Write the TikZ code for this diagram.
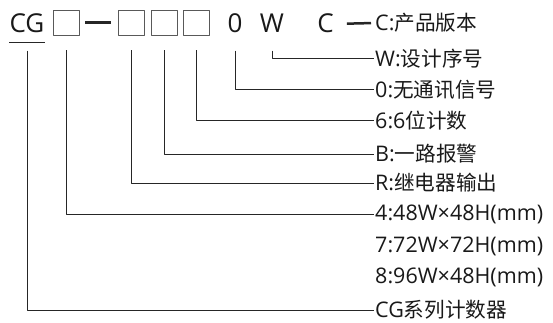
\documentclass[tikz,border=0pt]{standalone}
\usepackage{fontspec}
\setmainfont{Open Sans}
\newfontfamily\cjk[Scale=0.96]{Noto Sans CJK SC}
\begin{document}
\begin{tikzpicture}[x=1pt, y=-1pt, line join=round,
    code/.style={inner xsep=0pt, inner ysep=3.5pt, text height=18pt, text depth=0pt,
      font=\fontsize{26}{26}\selectfont, text=black!90},
    slot/.style={draw=black!65, line width=0.9pt, minimum width=26pt, minimum height=25pt, inner sep=0pt},
    lbl/.style={anchor=west, inner sep=1pt, font=\fontsize{21.5}{21.5}\selectfont, text=black!90},
    conn/.style={draw=black!85, line width=1pt},
    bar/.style={draw=black!85, line width=2.5pt}]
    \useasboundingbox (0,0) rectangle (553,323);
    \node[code] (cg) at (27,24) {CG};
    \node[slot] (b1) at (66,22.5) {};
    \node[slot] (b2) at (131,22.5) {};
    \node[slot] (b3) at (164,22.5) {};
    \node[slot] (b4) at (196.5,22.5) {};
    \node[code] (zero) at (235,24) {0};
    \node[code] (w) at (272,24) {W};
    \node[code] (c) at (325.5,24) {C};
    \node[lbl] (lc) at (374,23) {C:{\cjk 产品版本}};
    \node[lbl] (lw) at (374,59) {W:{\cjk 设计序号}};
    \node[lbl] (l0) at (374,90) {0:{\cjk 无通讯信号}};
    \node[lbl] (l6) at (374,121) {6:6{\cjk 位计数}};
    \node[lbl] (lb) at (374,154) {B:{\cjk 一路报警}};
    \node[lbl] (lr) at (374,183) {R:{\cjk 继电器输出}};
    \node[lbl] (l4) at (374,214) {4:48W×48H(mm)};
    \node[lbl] (l7) at (374,246) {7:72W×72H(mm)};
    \node[lbl] (l8) at (374,277) {8:96W×48H(mm)};
    \node[lbl] (lcg) at (374,310) {CG{\cjk 系列计数器}};
    \draw[conn] ([yshift=-6pt]cg.south west) -- ([yshift=-6pt]cg.south east);
    \draw[bar, shorten <=6pt, shorten >=7pt] (b1.east) -- (b2.west);
    \draw[bar, shorten <=13pt, shorten >=3pt] (c.east) -- (lc.west);
    \draw[conn] ([yshift=-14pt]w.south) |- (lw.west);
    \draw[conn] ([yshift=-14pt]zero.south) |- (l0.west);
    \draw[conn] ([yshift=-15pt]b4.south) |- (l6.west);
    \draw[conn] ([yshift=-15pt]b3.south) |- (lb.west);
    \draw[conn] ([yshift=-15pt]b2.south) |- (lr.west);
    \draw[conn] ([yshift=-15pt]b1.south) |- (l4.west);
    \draw[conn] ([yshift=-14pt]cg.south) |- (lcg.west);
\end{tikzpicture}
\end{document}
